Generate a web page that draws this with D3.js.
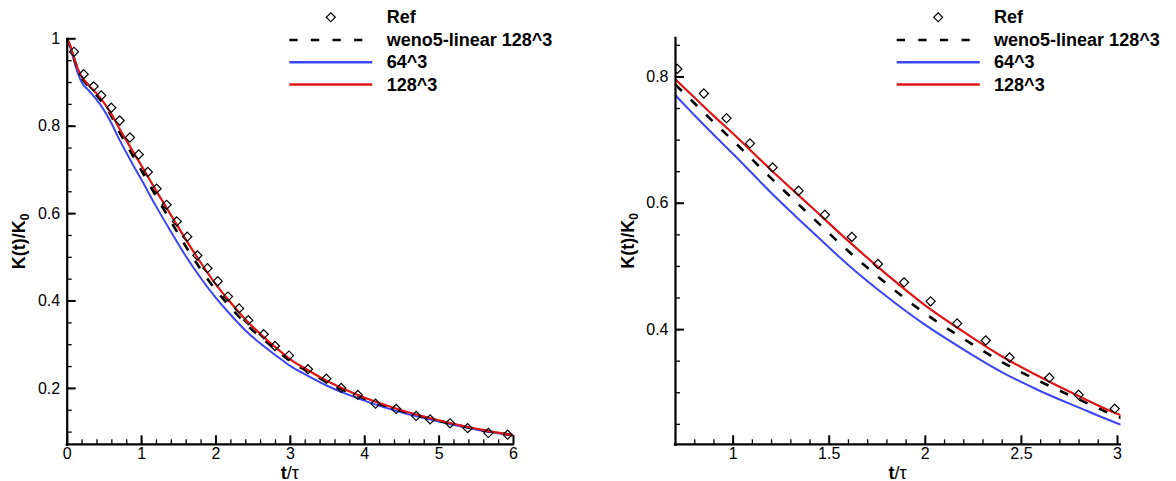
<!DOCTYPE html>
<html>
<head>
<meta charset="utf-8">
<script src="https://cdn.jsdelivr.net/npm/d3@7"></script>
<style>
  body { margin: 0; background: #fff; }
  svg { display: block; }
  text { font-family: "Liberation Sans", Arial, Helvetica, sans-serif; fill: #000; }
</style>
</head>
<body>
<svg id="chart" width="1176" height="481"></svg>
<script>
// Reference kinetic-energy decay K(t)/K0 (diamonds)
const refT = [0.098, 0.228, 0.362, 0.464, 0.599, 0.712, 0.850, 0.968, 1.090, 1.208,
              1.343, 1.480, 1.620, 1.756, 1.892, 2.030, 2.168, 2.317, 2.441, 2.648,
              2.800, 2.988, 3.243, 3.490, 3.691, 3.914, 4.152, 4.430, 4.698, 4.886,
              5.154, 5.391, 5.669, 5.928];
const refK = [0.969, 0.918, 0.890, 0.869, 0.841, 0.812, 0.773, 0.734, 0.694, 0.656,
              0.619, 0.581, 0.546, 0.503, 0.474, 0.444, 0.409, 0.382, 0.355, 0.323,
              0.296, 0.274, 0.243, 0.221, 0.200, 0.184, 0.164, 0.152, 0.136, 0.128,
              0.119, 0.108, 0.097, 0.093];

// Simulation output times
const simT = [0, 0.05, 0.1, 0.15, 0.2, 0.3, 0.4, 0.5, 0.6, 0.7, 0.8, 0.9, 1.0,
              1.2, 1.4, 1.6, 1.8, 2.0, 2.2, 2.4, 2.6, 2.8, 3.0, 3.25, 3.5, 3.75,
              4.0, 4.5, 5.0, 5.5, 6.0];
// weno5-linear, 128^3
const kWenoLinear128 = [1.000, 0.980, 0.953, 0.928, 0.910, 0.889, 0.870, 0.849, 0.822, 0.788,
                        0.758, 0.728, 0.699, 0.639, 0.581, 0.524, 0.472, 0.425, 0.385, 0.348,
                        0.317, 0.289, 0.262, 0.237, 0.213, 0.193, 0.176, 0.147, 0.125, 0.106, 0.092];
// 64^3
const k64 = [1.000, 0.978, 0.948, 0.920, 0.900, 0.880, 0.860, 0.836, 0.806, 0.771,
             0.739, 0.708, 0.678, 0.616, 0.558, 0.502, 0.452, 0.407, 0.368, 0.332,
             0.302, 0.276, 0.251, 0.227, 0.205, 0.187, 0.171, 0.144, 0.123, 0.105, 0.091];
// 128^3
const k128 = [1.000, 0.982, 0.955, 0.930, 0.913, 0.892, 0.874, 0.853, 0.827, 0.796,
              0.767, 0.738, 0.710, 0.652, 0.596, 0.540, 0.487, 0.438, 0.396, 0.357,
              0.324, 0.294, 0.266, 0.240, 0.216, 0.196, 0.178, 0.149, 0.126, 0.107, 0.092];

const legendLabels = ["Ref", "weno5-linear 128^3", "64^3", "128^3"];

// Axis ticks
const leftXTicks = [0, 1, 2, 3, 4, 5, 6];
const leftYTicks = [0.2, 0.4, 0.6, 0.8, 1];
const rightXTicks = [1, 1.5, 2, 2.5, 3];
const rightYTicks = [0.4, 0.6, 0.8];

const svg = d3.select("#chart");

const styles = {
  weno: { values: kWenoLinear128, color: "#000", width: 2.6, dash: "9,12.5" },
  m64:  { values: k64, color: "#3a46f2", width: 2, dash: null },
  m128: { values: k128, color: "#e01414", width: 2.2, dash: null }
};
// drawing order (bottom to top) and legend order
const drawOrder = ["m64", "weno", "m128"];
const legendOrder = ["weno", "m64", "m128"];

function drawPanel(cfg) {
  const x = d3.scaleLinear().domain(cfg.xDomain).range(cfg.xRange);
  const y = d3.scaleLinear().domain(cfg.yDomain).range(cfg.yRange);
  const g = svg.append("g");

  const clipId = "clip-" + cfg.id;
  svg.append("defs").append("clipPath").attr("id", clipId)
    .append("rect")
    .attr("x", cfg.xRange[0]).attr("y", cfg.yRange[1])
    .attr("width", cfg.clipRight - cfg.xRange[0])
    .attr("height", cfg.yRange[0] - cfg.yRange[1]);

  const plot = g.append("g").attr("clip-path", `url(#${clipId})`);

  const line = d3.line()
    .x((d, i) => x(simT[i]))
    .y(d => y(d))
    .curve(d3.curveMonotoneX);

  drawOrder.forEach(key => {
    const s = styles[key];
    plot.append("path")
      .attr("d", line(s.values))
      .attr("fill", "none")
      .attr("stroke", s.color)
      .attr("stroke-width", s.width)
      .attr("stroke-dasharray", s.dash)
      .attr("stroke-linejoin", "round");
  });

  const diamond = d3.symbol(d3.symbolSquare, 42);
  plot.selectAll("path.ref")
    .data(refT.map((t, i) => [t, refK[i]]))
    .join("path")
    .attr("class", "ref")
    .attr("d", diamond)
    .attr("transform", d => `translate(${x(d[0])},${y(d[1])}) rotate(45)`)
    .attr("fill", "none")
    .attr("stroke", "#000")
    .attr("stroke-width", 1.2);

  // minor ticks
  const xMinor = d3.range(cfg.xMinor[0], cfg.xMinor[1] + 1e-9, cfg.xMinor[2]).map(v => +v.toFixed(3));
  const yMinor = d3.range(cfg.yMinor[0], cfg.yMinor[1] + 1e-9, cfg.yMinor[2]).map(v => +v.toFixed(3));

  const xMinorAxis = d3.axisBottom(x).tickValues(xMinor).tickSizeInner(-5).tickSizeOuter(0).tickFormat("");
  const yMinorAxis = d3.axisLeft(y).tickValues(yMinor).tickSizeInner(-5).tickSizeOuter(0).tickFormat("");
  const xAxis = d3.axisBottom(x).tickValues(cfg.xTicks).tickSizeInner(-9).tickSizeOuter(0)
    .tickPadding(3).tickFormat(d3.format("~g"));
  const yAxis = d3.axisLeft(y).tickValues(cfg.yTicks).tickSizeInner(-9).tickSizeOuter(0)
    .tickPadding(6.5).tickFormat(d3.format("~g"));

  const base = cfg.yRange[0];
  const left = cfg.xRange[0];

  const gxm = g.append("g").attr("transform", `translate(0,${base})`).call(xMinorAxis);
  const gym = g.append("g").attr("transform", `translate(${left},0)`).call(yMinorAxis);
  [gxm, gym].forEach(a => {
    a.select(".domain").remove();
    a.selectAll(".tick line").attr("stroke-width", 1.3);
  });

  const gx = g.append("g").attr("transform", `translate(0,${base})`).call(xAxis);
  const gy = g.append("g").attr("transform", `translate(${left},0)`).call(yAxis);
  [gx, gy].forEach(a => {
    a.select(".domain").attr("stroke-width", 2.2).attr("stroke-linecap", "square");
    a.selectAll(".tick line").attr("stroke-width", 2);
    a.selectAll(".tick text").attr("font-size", 16)
      .style("font-family", '"Liberation Sans", Arial, Helvetica, sans-serif');
  });
  gx.select(".domain").attr("d", `M${cfg.xRange[0]},0H${cfg.axisRight}`);

  // axis titles
  const xt = g.append("text")
    .attr("x", (cfg.xRange[0] + cfg.axisRight) / 2)
    .attr("y", 478.5)
    .attr("text-anchor", "middle")
    .attr("font-size", 18)
    .attr("font-weight", "bold");
  xt.append("tspan").text("t");
  xt.append("tspan").attr("font-weight", "normal").text("/τ");

  const yt = g.append("text")
    .attr("transform", `translate(${cfg.yTitleX},${(cfg.yRange[0] + cfg.yRange[1]) / 2}) rotate(-90)`)
    .attr("text-anchor", "middle")
    .attr("font-size", 18)
    .attr("font-weight", "bold");
  yt.append("tspan").text("K(t)/K");
  yt.append("tspan").attr("font-size", 12).attr("dy", 4).text("0");

  // legend
  const lg = g.append("g").attr("transform", `translate(${cfg.legendX},0)`);
  const rowY = [17.3, 40, 62.3, 84.5];
  lg.append("path")
    .attr("d", d3.symbol(d3.symbolSquare, 40)())
    .attr("transform", `translate(41.5,${rowY[0]}) rotate(45)`)
    .attr("fill", "none").attr("stroke", "#000").attr("stroke-width", 1.2);
  legendOrder.forEach((key, i) => {
    const s = styles[key];
    lg.append("line")
      .attr("x1", 0).attr("x2", s.dash ? 73 : 83)
      .attr("y1", rowY[i + 1]).attr("y2", rowY[i + 1])
      .attr("stroke", s.color)
      .attr("stroke-width", s.dash ? 2.6 : 2.4)
      .attr("stroke-dasharray", s.dash ? "8.3,13.3" : null);
  });
  legendLabels.forEach((lab, i) => {
    lg.append("text")
      .attr("x", 97.4).attr("y", rowY[i] + 6)
      .attr("font-size", 18).attr("font-weight", "bold")
      .text(lab);
  });
}

drawPanel({
  id: "full",
  xDomain: [0, 6], xRange: [66.7, 513],
  yDomain: [0.071, 1], yRange: [444.3, 38.3],
  clipRight: 516, axisRight: 513,
  xTicks: leftXTicks, yTicks: leftYTicks,
  xMinor: [0.2, 5.8, 0.2], yMinor: [0.1, 0.95, 0.05],
  yTitleX: 24.5, legendX: 289.3
});

drawPanel({
  id: "zoom",
  xDomain: [0.7, 3.0], xRange: [675, 1117],
  yDomain: [0.2176, 0.862], yRange: [444.3, 37.3],
  clipRight: 1120.5, axisRight: 1120,
  xTicks: rightXTicks, yTicks: rightYTicks,
  xMinor: [0.8, 2.9, 0.1], yMinor: [0.25, 0.85, 0.05],
  yTitleX: 633.5, legendX: 896.7
});
</script>
</body>
</html>
